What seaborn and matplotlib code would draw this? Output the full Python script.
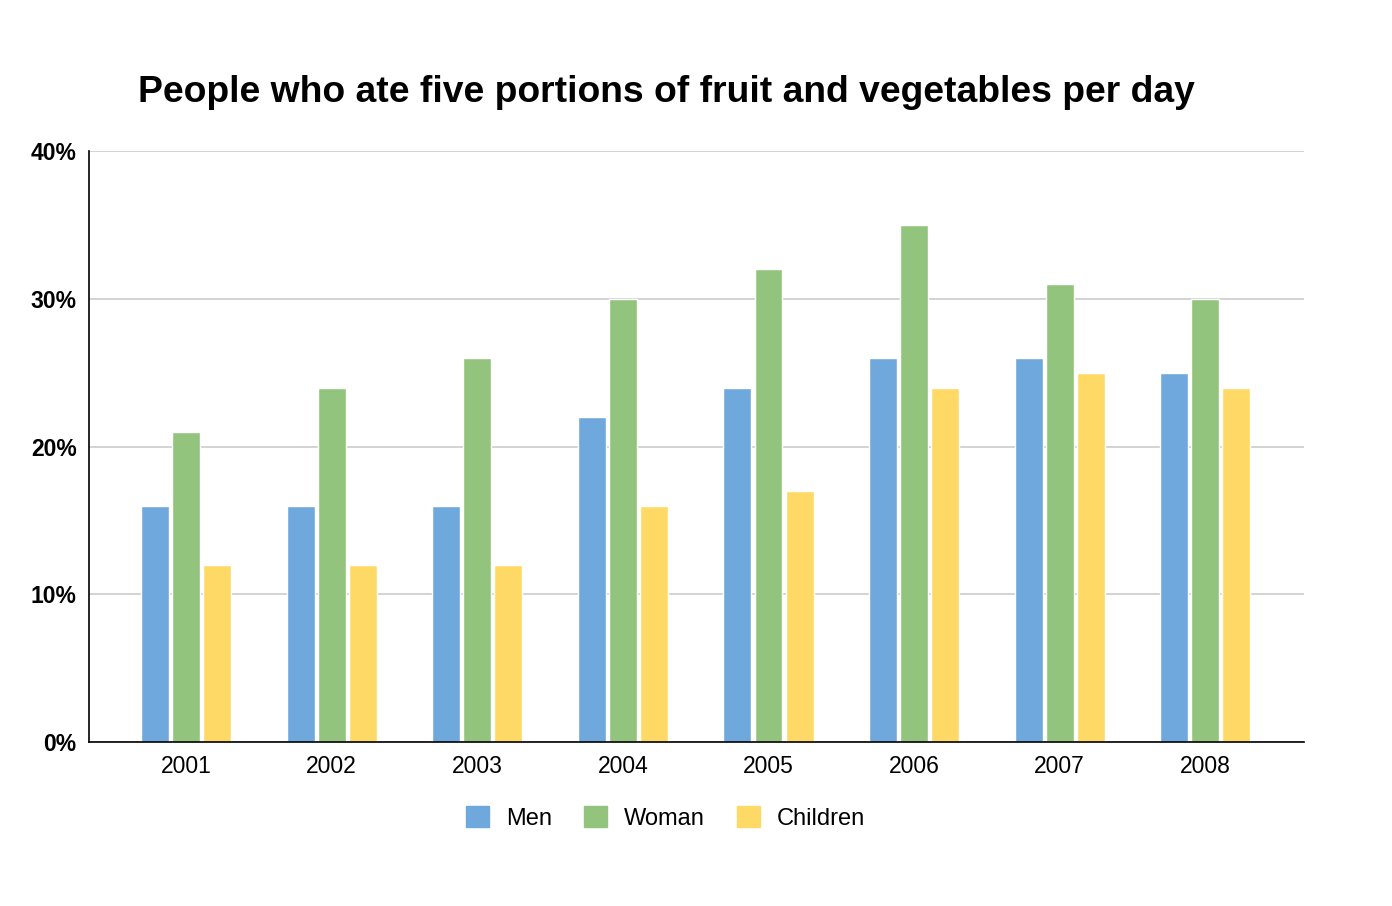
import pandas as pd
import matplotlib.pyplot as plt
import seaborn as sns
from matplotlib.ticker import FuncFormatter

# Data (percent)
years = ["2001", "2002", "2003", "2004", "2005", "2006", "2007", "2008"]
men = [16, 16, 16, 22, 24, 26, 26, 25]
woman = [21, 24, 26, 30, 32, 35, 31, 30]
children = [12, 12, 12, 16, 17, 24, 25, 24]
groups = ["Men", "Woman", "Children"]
colors = ["#6fa8dc", "#93c47d", "#ffd966"]

df = pd.DataFrame({"Year": years, "Men": men, "Woman": woman, "Children": children})
long = df.melt(id_vars="Year", var_name="Group", value_name="Pct")

sns.set_style("white")
plt.rcParams["font.family"] = ["Liberation Sans", "DejaVu Sans"]
plt.rcParams["text.color"] = "black"
plt.rcParams["xtick.color"] = "black"
plt.rcParams["ytick.color"] = "black"

fig = plt.figure(figsize=(13.92, 9.06), dpi=100)
ax = fig.add_axes([0.064, 0.181, 0.873, 0.652])

sns.barplot(data=long, x="Year", y="Pct", hue="Group", hue_order=groups,
            palette=colors, width=0.64, gap=0.1, saturation=1,
            errorbar=None, ax=ax, legend=False)

ax.set_ylim(0, 40)
ax.set_xlim(-0.666, 7.68)
ax.set_yticks([0, 10, 20, 30, 40])
ax.yaxis.set_major_formatter(FuncFormatter(lambda v, p: f"{int(v)}%"))
ax.grid(axis="y", color="#cccccc", linewidth=1.2)
ax.set_axisbelow(True)
for s in ["top", "right"]:
    ax.spines[s].set_visible(False)
ax.spines["left"].set_color("black")
ax.spines["bottom"].set_color("black")
ax.spines["left"].set_linewidth(1.2)
ax.spines["bottom"].set_linewidth(1.2)
ax.tick_params(axis="both", length=0, colors="black")
ax.tick_params(axis="y", pad=9)
ax.tick_params(axis="x", pad=9)
for t in ax.get_yticklabels():
    t.set_fontweight("bold")
    t.set_fontsize(16.5)
for t in ax.get_xticklabels():
    t.set_fontsize(16.5)
ax.set_xlabel("")
ax.set_ylabel("")

fig.text(0.479, 0.898, "People who ate five portions of fruit and vegetables per day",
         ha="center", va="center", fontsize=26.8, fontweight="bold", color="black")

handles = [plt.Rectangle((0, 0), 1, 1, color=c) for c in colors]
fig.legend(handles, groups, loc="center", bbox_to_anchor=(0.478, 0.097), ncol=3,
           frameon=False, fontsize=17, handlelength=0.98, handleheight=0.98,
           columnspacing=1.35, handletextpad=0.72)

fig.savefig("out.png", dpi=100)
